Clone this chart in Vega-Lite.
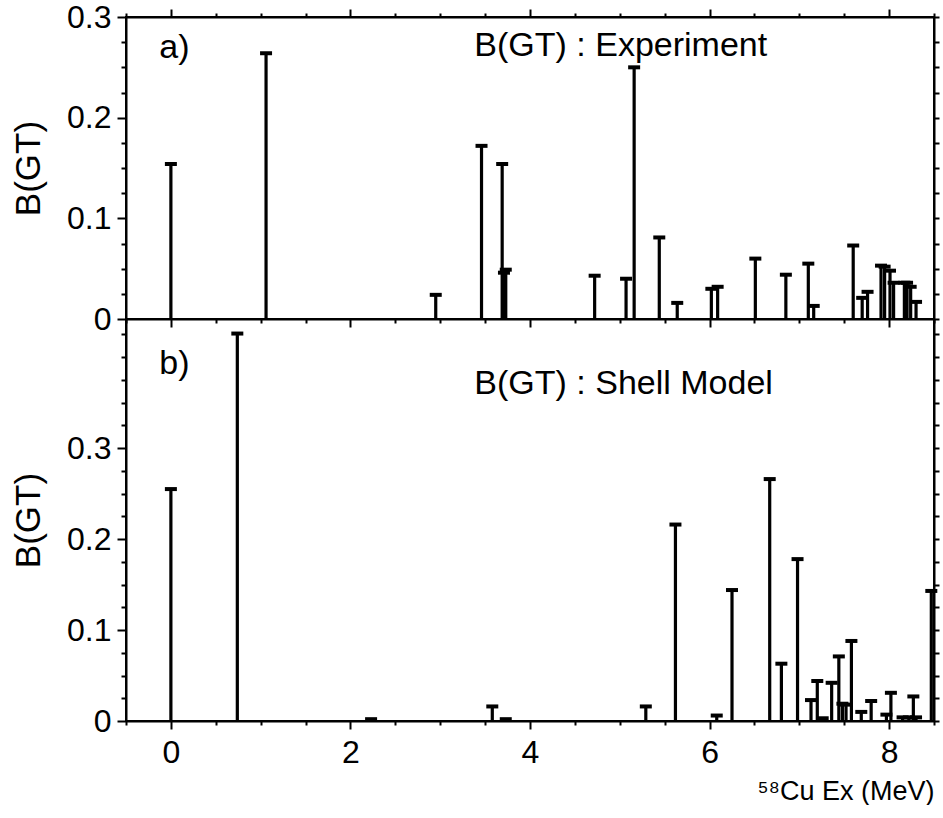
{
  "$schema": "https://vega.github.io/schema/vega-lite/v6.json",
  "background": "white",
  "padding": {"left": 10, "top": 0, "right": 0, "bottom": 0},
  "bounds": "flush",
  "spacing": 0,
  "datasets": {
    "exp": [
      {"x": 0, "b": 0.154}, {"x": 1.06, "b": 0.264}, {"x": 2.95, "b": 0.024}, {"x": 3.46, "b": 0.172},
      {"x": 3.69, "b": 0.154}, {"x": 3.71, "b": 0.046}, {"x": 3.73, "b": 0.049}, {"x": 4.72, "b": 0.043},
      {"x": 5.07, "b": 0.040}, {"x": 5.16, "b": 0.250}, {"x": 5.44, "b": 0.081}, {"x": 5.64, "b": 0.016},
      {"x": 6.02, "b": 0.030}, {"x": 6.09, "b": 0.032}, {"x": 6.51, "b": 0.060}, {"x": 6.85, "b": 0.044},
      {"x": 7.10, "b": 0.055}, {"x": 7.16, "b": 0.013}, {"x": 7.60, "b": 0.073}, {"x": 7.70, "b": 0.021},
      {"x": 7.76, "b": 0.027}, {"x": 7.91, "b": 0.053}, {"x": 7.95, "b": 0.052}, {"x": 8.01, "b": 0.048},
      {"x": 8.05, "b": 0.036}, {"x": 8.17, "b": 0.036}, {"x": 8.20, "b": 0.036}, {"x": 8.24, "b": 0.032},
      {"x": 8.30, "b": 0.017}
    ],
    "sm": [
      {"x": 0, "b": 0.255}, {"x": 0.74, "b": 0.426}, {"x": 2.23, "b": 0.002}, {"x": 3.58, "b": 0.016},
      {"x": 3.73, "b": 0.002}, {"x": 5.29, "b": 0.016}, {"x": 5.62, "b": 0.216}, {"x": 6.08, "b": 0.006},
      {"x": 6.25, "b": 0.144}, {"x": 6.67, "b": 0.266}, {"x": 6.80, "b": 0.063}, {"x": 6.98, "b": 0.178},
      {"x": 7.13, "b": 0.023}, {"x": 7.20, "b": 0.044}, {"x": 7.26, "b": 0.003}, {"x": 7.36, "b": 0.042},
      {"x": 7.44, "b": 0.071}, {"x": 7.48, "b": 0.019}, {"x": 7.52, "b": 0.018}, {"x": 7.58, "b": 0.088},
      {"x": 7.69, "b": 0.010}, {"x": 7.80, "b": 0.022}, {"x": 7.97, "b": 0.007}, {"x": 8.02, "b": 0.031},
      {"x": 8.15, "b": 0.004}, {"x": 8.22, "b": 0.004}, {"x": 8.27, "b": 0.027}, {"x": 8.30, "b": 0.004},
      {"x": 8.47, "b": 0.143}
    ],
    "txtA": [{"x": -0.13, "b": 0.259, "t": "a)"}, {"x": 3.38, "b": 0.261, "t": "B(GT) : Experiment"}],
    "txtB": [{"x": -0.13, "b": 0.381, "t": "b)"}, {"x": 3.38, "b": 0.359, "t": "B(GT) : Shell Model"}]
  },
  "vconcat": [
    {
      "width": 808,
      "height": 302,
      "layer": [
        {
          "data": {"name": "exp"},
          "mark": {"type": "rule", "color": "black", "strokeWidth": 3.2},
          "encoding": {
            "x": {"field": "x", "type": "quantitative", "scale": {"domain": [-0.5, 8.5], "nice": false, "zero": false},
              "axis": {"orient": "bottom", "values": [-0.5,0,0.5,1,1.5,2,2.5,3,3.5,4,4.5,5,5.5,6,6.5,7,7.5,8,8.5], "labels": false, "title": null,
                "tickSize": {"condition": {"test": "abs(datum.value/2 - round(datum.value/2)) < 0.001", "value": 8}, "value": 4}}},
            "y": {"field": "b", "type": "quantitative", "scale": {"domain": [0, 0.3], "nice": false},
              "axis": {"orient": "left", "values": [0,0.025,0.05,0.075,0.1,0.125,0.15,0.175,0.2,0.225,0.25,0.275,0.3],
                "labelExpr": "abs(datum.value*10 - round(datum.value*10)) < 0.001 ? format(datum.value, '.1~f') : ''",
                "labelOverlap": false, "labelFlush": false, "labelPadding": 6,
                "title": "B(GT)", "titleFontSize": 35, "titlePadding": 20,
                "tickSize": {"condition": {"test": "abs(datum.value*10 - round(datum.value*10)) < 0.001", "value": 9}, "value": 5}}},
            "y2": {"datum": 0}
          }
        },
        {
          "data": {"name": "exp"},
          "mark": {"type": "tick", "color": "black", "opacity": 1, "orient": "horizontal", "size": 12, "thickness": 4},
          "encoding": {
            "x": {"field": "x", "type": "quantitative",
              "axis": {"orient": "top", "values": [-0.5,0,0.5,1,1.5,2,2.5,3,3.5,4,4.5,5,5.5,6,6.5,7,7.5,8,8.5], "labels": false, "title": null,
                "tickSize": {"condition": {"test": "abs(datum.value/2 - round(datum.value/2)) < 0.001", "value": 8}, "value": 4}}},
            "y": {"field": "b", "type": "quantitative",
              "axis": {"orient": "right", "values": [0,0.025,0.05,0.075,0.1,0.125,0.15,0.175,0.2,0.225,0.25,0.275,0.3], "labels": false, "title": null, "tickSize": 5}}
          }
        },
        {
          "data": {"name": "txtA"},
          "mark": {"type": "text", "align": "left", "baseline": "alphabetic", "font": "Liberation Sans", "fontSize": 34, "color": "black"},
          "encoding": {
            "x": {"field": "x", "type": "quantitative", "axis": null},
            "y": {"field": "b", "type": "quantitative", "axis": null},
            "text": {"field": "t"}
          }
        }
      ],
      "resolve": {"axis": {"x": "independent", "y": "independent"}}
    },
    {
      "width": 808,
      "height": 402,
      "layer": [
        {
          "data": {"name": "sm"},
          "mark": {"type": "rule", "color": "black", "strokeWidth": 3.2},
          "encoding": {
            "x": {"field": "x", "type": "quantitative", "scale": {"domain": [-0.5, 8.5], "nice": false, "zero": false},
              "axis": {"orient": "bottom", "values": [-0.5,0,0.5,1,1.5,2,2.5,3,3.5,4,4.5,5,5.5,6,6.5,7,7.5,8,8.5],
                "labelExpr": "abs(datum.value/2 - round(datum.value/2)) < 0.001 ? format(datum.value, 'd') : ''",
                "labelOverlap": false, "labelFlush": false, "labelFontSize": 32, "labelPadding": 8,
                "title": "⁵⁸Cu Ex (MeV)", "titleAnchor": "end", "titleFontSize": 27, "titlePadding": 10,
                "tickSize": {"condition": {"test": "abs(datum.value/2 - round(datum.value/2)) < 0.001", "value": 8}, "value": 4}}},
            "y": {"field": "b", "type": "quantitative", "scale": {"domain": [0, 0.442], "nice": false},
              "axis": {"orient": "left", "values": [0,0.025,0.05,0.075,0.1,0.125,0.15,0.175,0.2,0.225,0.25,0.275,0.3,0.325,0.35,0.375,0.4,0.425],
                "labelExpr": "datum.value < 0.31 && abs(datum.value*10 - round(datum.value*10)) < 0.001 ? format(datum.value, '.1~f') : ''",
                "labelOverlap": false, "labelFlush": false, "labelPadding": 6,
                "title": "B(GT)", "titleFontSize": 35, "titlePadding": 20,
                "tickSize": {"condition": {"test": "datum.value < 0.31 && abs(datum.value*10 - round(datum.value*10)) < 0.001", "value": 9}, "value": 5}}},
            "y2": {"datum": 0}
          }
        },
        {
          "data": {"name": "sm"},
          "mark": {"type": "tick", "color": "black", "opacity": 1, "orient": "horizontal", "size": 12, "thickness": 4},
          "encoding": {
            "x": {"field": "x", "type": "quantitative", "axis": null},
            "y": {"field": "b", "type": "quantitative",
              "axis": {"orient": "right", "values": [0,0.025,0.05,0.075,0.1,0.125,0.15,0.175,0.2,0.225,0.25,0.275,0.3,0.325,0.35,0.375,0.4,0.425], "labels": false, "title": null, "tickSize": 5}}
          }
        },
        {
          "data": {"name": "txtB"},
          "mark": {"type": "text", "align": "left", "baseline": "alphabetic", "font": "Liberation Sans", "fontSize": 34, "color": "black"},
          "encoding": {
            "x": {"field": "x", "type": "quantitative", "axis": null},
            "y": {"field": "b", "type": "quantitative", "axis": null},
            "text": {"field": "t"}
          }
        }
      ],
      "resolve": {"axis": {"x": "independent", "y": "independent"}}
    }
  ],
  "config": {
    "view": {"stroke": "black", "strokeWidth": 2},
    "axis": {
      "domainColor": "black", "domainWidth": 2, "tickColor": "black", "tickWidth": 2,
      "labelColor": "black", "titleColor": "black", "labelFont": "Liberation Sans", "titleFont": "Liberation Sans",
      "labelFontSize": 32, "grid": false, "titleFontWeight": "normal"
    }
  }
}
